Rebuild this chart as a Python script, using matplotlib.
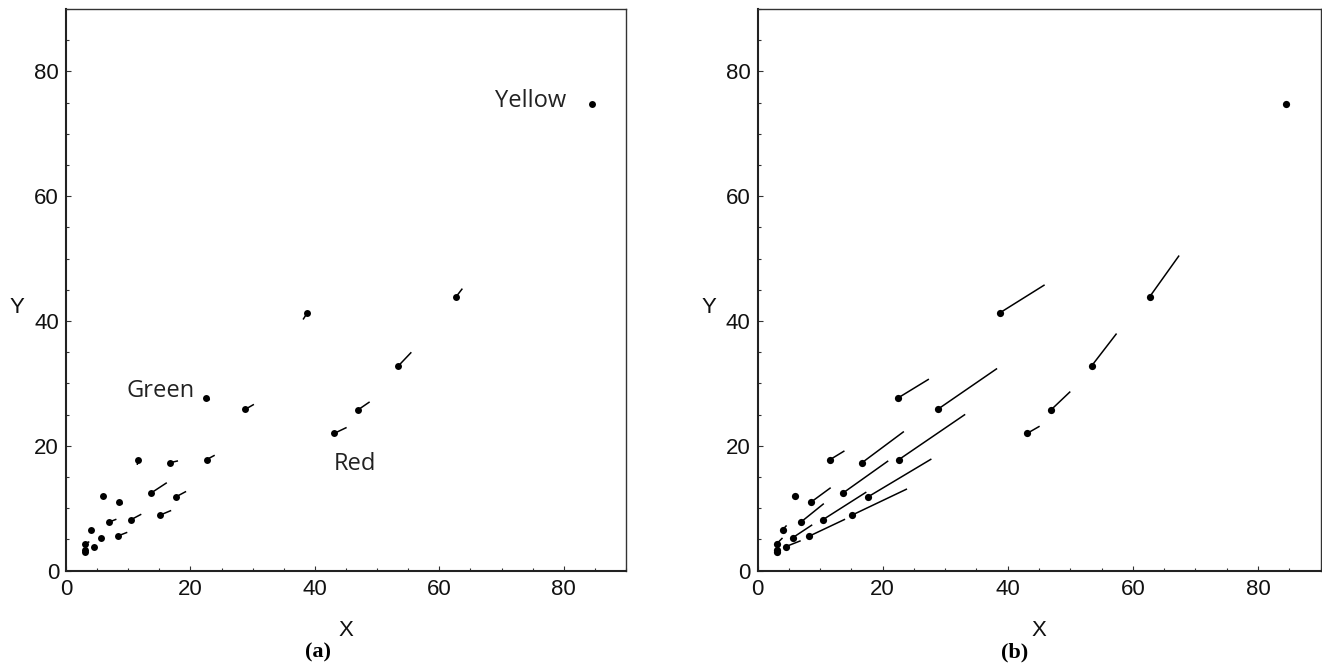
"""Two scatter panels of dots with short (a) and long (b) direction segments."""

import numpy as np
from matplotlib import pyplot as plt
from matplotlib import font_manager
from matplotlib.ticker import MultipleLocator

# dot positions (same in both panels)
dot_x = [84.5, 38.8, 62.7, 53.4, 46.9, 43.1, 22.5, 28.8, 11.6, 16.7, 22.6, 6.0, 13.6,
         8.5, 17.7, 6.95, 10.5, 15.1, 4.0, 5.65, 8.3, 3.05, 3.05, 3.05, 4.5]
dot_y = [74.7, 41.35, 43.9, 32.8, 25.75, 22.0, 27.7, 25.85, 17.8, 17.3, 17.8, 12.0, 12.4,
         10.95, 11.85, 7.8, 8.2, 8.9, 6.55, 5.3, 5.55, 4.3, 3.3, 3.0, 3.85]

nan = np.nan
# panel (a): end points of the short tails
tail_a_x = [nan, 38.1, 63.7, 55.5, 48.8, 45.1, 23.1, 30.2, 11.45, 18.0, 23.9, nan, 16.2,
            9.1, 19.3, 8.1, 12.1, 16.9, nan, 6.0, 9.85, 3.75, nan, nan, nan]
tail_a_y = [nan, 40.25, 45.2, 35.0, 27.05, 22.95, 27.35, 26.65, 16.95, 17.6, 18.5, nan, 14.1,
            10.7, 12.7, 8.25, 9.05, 9.65, nan, 5.35, 6.15, 4.65, nan, nan, nan]
# panel (b): end points of the long segments
tail_b_x = [nan, 45.9, 67.4, 57.4, 50.0, 45.1, 27.4, 38.3, 13.9, 23.4, 33.2, nan, 20.9,
            11.7, 27.8, 10.6, 17.4, 23.9, 4.65, 8.75, 14.0, 4.0, nan, nan, 6.9]
tail_b_y = [nan, 45.8, 50.5, 38.0, 28.7, 23.15, 30.7, 32.4, 19.2, 22.3, 25.05, nan, 17.6,
            13.3, 17.9, 10.75, 12.6, 13.1, 7.25, 7.35, 8.25, 5.25, nan, nan, 4.8]

labels = ["Yellow", "Green", "Red"]
label_x = [74.7, 15.2, 46.4]
label_y = [74.3, 27.8, 16.1]


def pick_family(names):
    installed = {f.name for f in font_manager.fontManager.ttflist}
    for name in names:
        if name in installed:
            return name
    return "DejaVu Sans"


def style_axes(ax):
    ax.set_xlim(0, 90)
    ax.set_ylim(0, 90)
    ax.xaxis.set_major_locator(MultipleLocator(20))
    ax.yaxis.set_major_locator(MultipleLocator(20))
    ax.xaxis.set_minor_locator(MultipleLocator(5))
    ax.yaxis.set_minor_locator(MultipleLocator(5))
    ax.tick_params(which="both", direction="in", top=False, right=False,
                   color="#333333", width=0.8, labelsize=16, labelcolor="#111111")
    ax.tick_params(which="major", length=3.5)
    ax.tick_params(which="minor", length=2.2)
    ax.tick_params(axis="x", pad=6)
    ax.tick_params(axis="y", pad=5)
    for side in ["left", "bottom"]:
        ax.spines[side].set_linewidth(1.5)
        ax.spines[side].set_color("#222222")
    for side in ["top", "right"]:
        ax.spines[side].set_linewidth(1.0)
        ax.spines[side].set_color("#333333")
    ax.set_xlabel("X", fontsize=16, color="#111111")
    ax.set_ylabel("Y", fontsize=16, color="#111111", rotation=0)
    ax.xaxis.set_label_coords(0.5, -0.088)
    ax.yaxis.set_label_coords(-0.087, 0.45)


def draw_panel(ax, end_x, end_y, ms):
    for x0, y0, x1, y1 in zip(dot_x, dot_y, end_x, end_y):
        if not np.isnan(x1):
            ax.plot([x0, x1], [y0, y1], color="black", lw=1.1, solid_capstyle="butt")
    ax.plot(dot_x, dot_y, "o", color="black", ms=ms, mew=0)


def main():
    plt.rcParams["font.family"] = pick_family(["Liberation Sans", "Arial"])

    fig = plt.figure(figsize=(13.22, 6.66), dpi=100)
    ax_a = fig.add_axes([66 / 1322, 95.3 / 666, 560 / 1322, 561.7 / 666])
    ax_b = fig.add_axes([757.5 / 1322, 95.3 / 666, 563 / 1322, 561.7 / 666])

    draw_panel(ax_a, tail_a_x, tail_a_y, 5.0)
    draw_panel(ax_b, tail_b_x, tail_b_y, 5.2)
    style_axes(ax_a)
    style_axes(ax_b)

    for text, x, y in zip(labels, label_x, label_y):
        ax_a.text(x, y, text, ha="center", va="baseline", fontsize=17,
                  family=pick_family(["Open Sans"]), color="#222222")

    serif = pick_family(["Liberation Serif"])
    fig.text(318 / 1322, 14 / 666, "(a)", ha="center", va="center", fontsize=16,
             family=serif, weight="bold")
    fig.text(1015 / 1322, 14 / 666, "(b)", ha="center", va="center", fontsize=16,
             family=serif, weight="bold")

    fig.savefig("out.png", dpi=100)
    plt.close(fig)


if __name__ == "__main__":
    main()
